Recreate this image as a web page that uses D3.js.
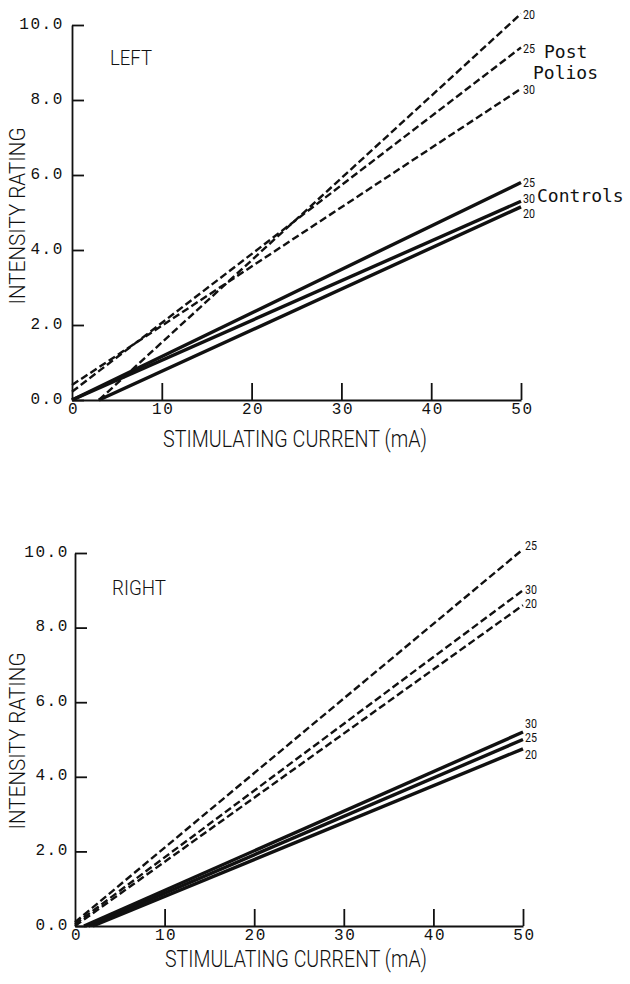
<!DOCTYPE html>
<meta charset="utf-8">

<!-- Load d3.js -->
<script src="https://d3js.org/d3.v7.min.js"></script>

<style type="text/css">
  body { margin: 0; background: #fff; }
  .tick text { font-family: "Liberation Mono", "DejaVu Sans Mono", monospace; font-size: 16px; letter-spacing: 1.6px; fill: #111; }
  .title { font-family: Roboto, "Liberation Sans", sans-serif; font-weight: 300; fill: #111; }
  .mono { font-family: "DejaVu Sans Mono", monospace; fill: #111; }
  .endlab { font-family: Roboto, "Liberation Sans", sans-serif; font-size: 13px; fill: #111; }
</style>

<div id="my_dataviz"></div>

<script>
// axis ticks
let currentTicks = [10, 20, 30, 40, 50];
let ratingTicks = [0, 2, 4, 6, 8, 10];

// age groups, in the order of the line arrays below
let ageGroups = ["20", "25", "30"];

// each line: [[current, rating] at start, [current, rating] at 50 mA]
let leftPolioLines = [[[3, 0], [50, 10.3]], [[0, 0.22], [50, 9.4]], [[0, 0.4], [50, 8.3]]];
let leftControlLines = [[[3, 0], [50, 5.15]], [[0, 0], [50, 5.8]], [[0, 0], [50, 5.3]]];
let rightPolioLines = [[[0, 0], [50, 8.6]], [[0, 0.1], [50, 10.1]], [[0, 0.05], [50, 9.0]]];
let rightControlLines = [[[2, 0], [50, 4.75]], [[1.5, 0], [50, 5.0]], [[1, 0], [50, 5.2]]];

let svg = d3.select("#my_dataviz")
  .append("svg")
  .attr("width", 630)
  .attr("height", 984);

function drawPanel(p) {
  let x = d3.scaleLinear().domain([0, 50]).range(p.xr);
  let y = d3.scaleLinear().domain([0, 10]).range(p.yr);
  let g = svg.append("g");

  // X axis, ticks pointing up into the plot
  let xa = g.append("g")
    .attr("transform", "translate(0," + p.yr[0] + ")")
    .call(d3.axisBottom(x).tickValues(currentTicks.concat([0]))
      .tickSize(-17).tickSizeOuter(0).tickPadding(0)
      .tickFormat(d3.format("d")));
  xa.selectAll(".tick text").attr("y", 14).attr("dy", 0).attr("dx", 1);

  // Y axis, ticks pointing right
  let ya = g.append("g")
    .attr("transform", "translate(" + p.xr[0] + ",0)")
    .call(d3.axisLeft(y).tickValues(ratingTicks)
      .tickSize(-12).tickSizeOuter(0).tickPadding(p.yPad)
      .tickFormat(d3.format(".1f")));
  ya.selectAll(".tick text").attr("dy", 0).attr("y", 3);

  g.selectAll(".domain, .tick line").attr("stroke", "#111").attr("stroke-width", 1.8);
  xa.selectAll(".tick").filter(d => d === 0).select("line").remove();

  let line = d3.line().x(d => x(d[0])).y(d => y(d[1]));

  // post polio lines (dashed)
  g.selectAll(".polio").data(p.polio).join("path")
    .attr("fill", "none")
    .attr("stroke", "#111")
    .attr("stroke-width", 2.4)
    .attr("stroke-dasharray", "7.5,3.5")
    .attr("d", line);

  // control lines (solid)
  g.selectAll(".ctrl").data(p.ctrl).join("path")
    .attr("fill", "none")
    .attr("stroke", "#111")
    .attr("stroke-width", 3.4)
    .attr("d", line);

  // age labels at the line ends
  function endLabels(lines, dys) {
    g.append("g").selectAll("text").data(lines).join("text")
      .attr("class", "endlab")
      .attr("x", d => x(d[1][0]) + 2)
      .attr("y", (d, i) => y(d[1][1]) + dys[i] + 5)
      .attr("textLength", 12).attr("lengthAdjust", "spacingAndGlyphs")
      .text((d, i) => ageGroups[i]);
  }
  endLabels(p.polio, p.polioDy);
  endLabels(p.ctrl, p.ctrlDy);

  // side label
  g.append("text").attr("class", "title")
    .attr("x", p.side[0]).attr("y", p.side[1])
    .attr("font-size", 21)
    .attr("textLength", p.side[2]).attr("lengthAdjust", "spacingAndGlyphs")
    .text(p.name);

  // axis titles
  g.append("text").attr("class", "title")
    .attr("x", p.xTitle[0]).attr("y", p.xTitle[1])
    .attr("font-size", 23)
    .attr("textLength", p.xTitle[2]).attr("lengthAdjust", "spacingAndGlyphs")
    .text("STIMULATING CURRENT  (mA)");

  g.append("text").attr("class", "title")
    .attr("transform", "translate(25," + p.yTitleY + ") rotate(-90)")
    .attr("text-anchor", "middle")
    .attr("font-size", 22)
    .attr("textLength", 177).attr("lengthAdjust", "spacingAndGlyphs")
    .text("INTENSITY RATING");
}

drawPanel({
  name: "LEFT", xr: [72, 521], yr: [400, 25], yPad: 8,
  polio: leftPolioLines, ctrl: leftControlLines,
  polioDy: [0, 0, 0], ctrlDy: [6, -1, -3],
  side: [110, 65, 42], xTitle: [163, 447, 264], yTitleY: 216
});

drawPanel({
  name: "RIGHT", xr: [75, 523], yr: [926, 553], yPad: 6,
  polio: rightPolioLines, ctrl: rightControlLines,
  polioDy: [-2, -4, -1], ctrlDy: [5, -3, -9],
  side: [112, 595, 54], xTitle: [165, 967, 262], yTitleY: 741
});

// group labels for the left panel
svg.append("text").attr("class", "mono").attr("font-size", 18).attr("x", 544).attr("y", 58).text("Post");
svg.append("text").attr("class", "mono").attr("font-size", 18).attr("x", 533).attr("y", 79).text("Polios");
svg.append("text").attr("class", "mono").attr("font-size", 18).attr("x", 537).attr("y", 202).text("Controls");
</script>
